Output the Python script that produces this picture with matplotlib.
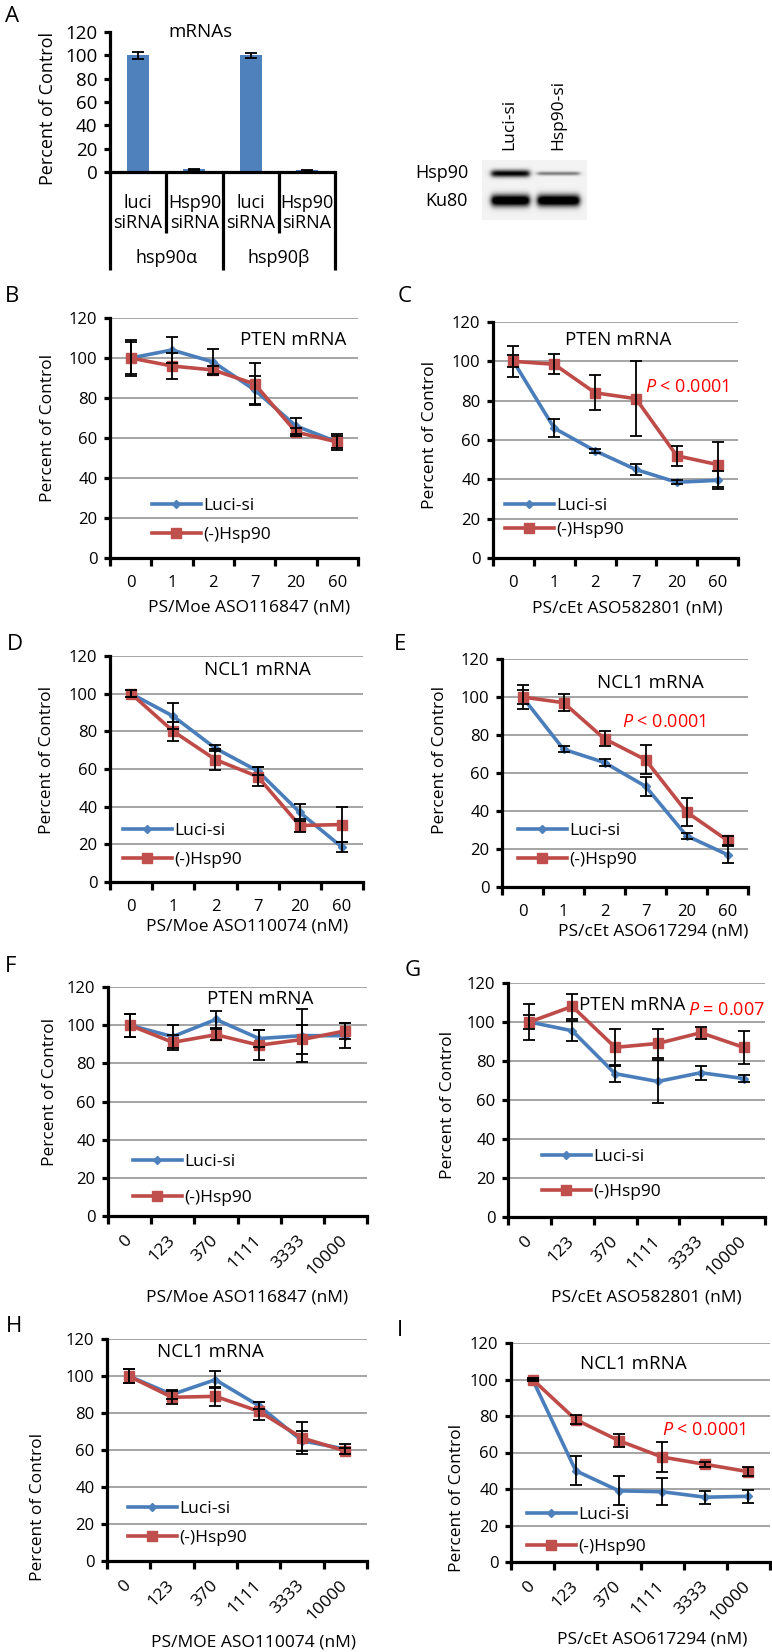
import numpy as np
import matplotlib
matplotlib.use('Agg')
import matplotlib.pyplot as plt
import matplotlib.transforms as mtrans
from matplotlib.lines import Line2D

plt.rcParams['font.family'] = ['Open Sans', 'DejaVu Sans']
plt.rcParams['mathtext.fontset'] = 'custom'
plt.rcParams['mathtext.rm'] = 'Open Sans'
plt.rcParams['mathtext.it'] = 'Open Sans:italic'

# ---------------- data ----------------
a_labels = ['luci\nsiRNA', 'Hsp90\nsiRNA', 'luci\nsiRNA', 'Hsp90\nsiRNA']
a_groups = ['hsp90α', 'hsp90β']
a_values = [100, 2.5, 100, 1.5]
a_errors = [3, 0.5, 2, 0.5]

blot_lanes = ['Luci-si', 'Hsp90-si']
blot_rows = ['Hsp90', 'Ku80']
blot_hsp90 = [0.95, 0.45]
blot_ku80 = [1.0, 1.0]

doses_low = ['0', '1', '2', '7', '20', '60']
doses_high = ['0', '123', '370', '1111', '3333', '10000']

B_luci = [100, 104, 98, 84, 66, 58]
B_luci_err = [8, 6.5, 6.5, 7, 4, 3]
B_hsp = [100, 96, 94, 87, 63, 58]
B_hsp_err = [9, 6.5, 2, 10.5, 2, 4]

C_luci = [100, 66, 54.5, 45, 38.5, 39.5]
C_luci_err = [8, 4.5, 1, 3, 1, 4.5]
C_hsp = [100, 98.5, 84, 81, 52, 47.5]
C_hsp_err = [3, 5, 9, 19, 5, 11.5]

D_luci = [100, 88, 71, 59, 37, 18.5]
D_luci_err = [2, 7, 1.5, 2, 4.5, 2.5]
D_hsp = [100, 80, 65, 56, 30, 30.5]
D_hsp_err = [2, 5, 5.5, 5, 3.5, 9.5]

E_luci = [100, 72.5, 65.5, 53, 27, 17]
E_luci_err = [6.5, 1.5, 2, 5, 1.5, 4.5]
E_hsp = [100, 97, 78, 67, 39.5, 24.5]
E_hsp_err = [3.5, 4.5, 4, 7.5, 7.5, 2.5]

F_luci = [100, 94, 103, 93, 94.5, 94.5]
F_luci_err = [6, 6, 4.5, 4.5, 14, 6.5]
F_hsp = [100, 91, 95, 89.5, 92.5, 97]
F_hsp_err = [6, 4, 3, 8, 7.5, 4]

G_luci = [100, 95.5, 73.5, 69.5, 74, 71]
G_luci_err = [9, 5, 4.5, 11, 3.5, 2]
G_hsp = [100, 108, 87, 89, 94.5, 87]
G_hsp_err = [3.5, 6.5, 9.5, 7.5, 3, 8.5]

H_luci = [100, 90, 98, 84, 65, 60.5]
H_luci_err = [4, 2.5, 4.5, 2, 5.5, 2.5]
H_hsp = [100, 88.5, 89, 81, 66.5, 59.5]
H_hsp_err = [4, 3.5, 5, 5, 8.5, 1.5]

I_luci = [100, 50, 39, 38.5, 35.5, 36]
I_luci_err = [0.5, 8, 8, 7.5, 3.5, 3.5]
I_hsp = [100, 78, 66.5, 57.5, 53.5, 49.5]
I_hsp_err = [1, 2.5, 3.5, 8, 1.5, 2.5]

yticks = [0, 20, 40, 60, 80, 100, 120]

# ---------------- layout helpers ----------------
W, H = 772, 1652
fig = plt.figure(figsize=(W / 100, H / 100), dpi=100)


def rect(x0, ytop, x1, ybot):
    return [x0 / W, 1 - ybot / H, (x1 - x0) / W, (ybot - ytop) / H]


def ftext(px, py, s, **kw):
    fig.text(px / W, 1 - py / H, s, **kw)


BLUE = '#4A7EBB'
BLUE_M = '#4F81BD'
RED = '#BE4B48'
RED_M = '#C0504D'
GRID = '#8C8C8C'
SPW = 2.3
TICK_FS = 12
LAB_FS = 12.5

# ---------------- Panel A ----------------
axA = fig.add_axes(rect(110, 32, 335, 172))
xa = np.arange(len(a_values))
axA.bar(xa, a_values, width=0.39, color='#4F81BD', zorder=2)
axA.errorbar(xa, a_values, yerr=a_errors, fmt='none', ecolor='black',
             elinewidth=1.3, capsize=4, capthick=1.3, zorder=3)
axA.set_xlim(-0.5, 3.5)
axA.set_ylim(0, 120)
axA.set_yticks(yticks)
axA.tick_params(axis='y', labelsize=13.5, length=4, width=SPW, pad=5)
axA.set_xticks([])
for s in ['top', 'right']:
    axA.spines[s].set_visible(False)
for s in ['left', 'bottom']:
    axA.spines[s].set_linewidth(SPW)
axA.set_ylabel('Percent of Control', fontsize=13)
axA.yaxis.set_label_coords(-0.276, 0.457)
axA.yaxis.label.set_va('center')
axA.text(0.4, 1.0, 'mRNAs', transform=axA.transAxes, ha='center', va='center',
         fontsize=13.5)
trA = mtrans.blended_transform_factory(axA.transData, axA.transAxes)
deep = -(270 - 172) / 140
shallow = -(233 - 172) / 140
for xb, d in zip([-0.5, 0.5, 1.5, 2.5, 3.5], [deep, shallow, deep, shallow, deep]):
    axA.plot([xb, xb], [0, d], transform=trA, color='black', lw=SPW,
             clip_on=False, solid_capstyle='butt')
for xi, lab in zip(xa, a_labels):
    axA.text(xi, -(213 - 172) / 140, lab, transform=trA, ha='center',
             va='center', fontsize=13, linespacing=1.1)
for gi, g in enumerate(a_groups):
    axA.text(0.5 + 2 * gi, -(258 - 172) / 140, g, transform=trA, ha='center',
             va='center', fontsize=13)

# ---------------- Blot ----------------
axW = fig.add_axes(rect(482, 160, 587, 220))
yy, xx = np.mgrid[0:60, 0:105].astype(float)
img = np.full(yy.shape, 0.95)
lane_c = [28, 76]
lane_hw = [19, 21]
dark = np.zeros_like(img)
for li in range(2):
    prof_x = 1 / (1 + np.exp((np.abs(xx - lane_c[li]) - lane_hw[li]) / 1.5))
    dark += blot_hsp90[li] * prof_x * np.exp(-0.5 * ((yy - 13) / (2.6 if li == 0 else 1.4)) ** 2)
    dark += blot_ku80[li] * prof_x * np.exp(-0.5 * ((yy - 40) / 4.2) ** 2) * 1.2
img = np.clip(img - dark, 0, 1)
axW.imshow(img, cmap='gray', vmin=0, vmax=1, aspect='auto',
           interpolation='bilinear')
axW.axis('off')
ftext(468, 173, blot_rows[0], ha='right', va='center', fontsize=13)
ftext(468, 201, blot_rows[1], ha='right', va='center', fontsize=13)
ftext(509, 150, blot_lanes[0], ha='center', va='bottom', rotation=90, fontsize=12.5)
ftext(558, 150, blot_lanes[1], ha='center', va='bottom', rotation=90, fontsize=12.5)

# ---------------- Line panels ----------------
panels = [
    dict(letter='B', box=(110, 318, 358, 558), labels=doses_low,
         luci=B_luci, luci_err=B_luci_err, hsp=B_hsp, hsp_err=B_hsp_err,
         rot=False, title='PTEN mRNA', title_xy=(0.738, 0.908), p=None,
         leg=(0.169, 0.063), ls=0.75, xlabel='PS/Moe ASO116847 (nM)',
         xl=(0.56, -0.208), yl=(-0.25, 0.54), let_xy=(12, 297)),
    dict(letter='C', box=(493, 322, 738, 558), labels=doses_low,
         luci=C_luci, luci_err=C_luci_err, hsp=C_hsp, hsp_err=C_hsp_err,
         rot=False, title='PTEN mRNA', title_xy=(0.51, 0.924),
         p='$P$ < 0.0001', p_xy=(0.62, 0.725), p_ha='left',
         leg=(0.049, 0.085), ls=0.45, xlabel='PS/cEt ASO582801 (nM)',
         xl=(0.547, -0.212), yl=(-0.257, 0.52), let_xy=(405, 296)),
    dict(letter='D', box=(110, 656, 363, 882), labels=doses_low,
         luci=D_luci, luci_err=D_luci_err, hsp=D_hsp, hsp_err=D_hsp_err,
         rot=False, title='NCL1 mRNA', title_xy=(0.581, 0.938), p=None,
         leg=(0.051, 0.062), ls=0.75, xlabel='PS/Moe ASO110074 (nM)',
         xl=(0.54, -0.199), yl=(-0.249, 0.54), let_xy=(15, 645)),
    dict(letter='E', box=(502, 659, 748, 887), labels=doses_low,
         luci=E_luci, luci_err=E_luci_err, hsp=E_hsp, hsp_err=E_hsp_err,
         rot=False, title='NCL1 mRNA', title_xy=(0.602, 0.895),
         p='$P$ < 0.0001', p_xy=(0.488, 0.724), p_ha='left',
         leg=(0.065, 0.083), ls=0.75, xlabel='PS/cEt ASO617294 (nM)',
         xl=(0.615, -0.197), yl=(-0.252, 0.557), let_xy=(400, 645)),
    dict(letter='F', box=(108, 987, 367, 1216), labels=doses_high,
         luci=F_luci, luci_err=F_luci_err, hsp=F_hsp, hsp_err=F_hsp_err,
         rot=True, title='PTEN mRNA', title_xy=(0.587, 0.948), p=None,
         leg=(0.097, 0.044), ls=1.15, xlabel='PS/Moe ASO116847 (nM)',
         xl=(0.537, -0.354), yl=(-0.224, 0.541), let_xy=(11, 967)),
    dict(letter='G', box=(508, 983, 765, 1217), labels=doses_high,
         luci=G_luci, luci_err=G_luci_err, hsp=G_hsp, hsp_err=G_hsp_err,
         rot=True, title='PTEN mRNA', title_xy=(0.482, 0.906),
         p='$P$ = 0.007', p_xy=(1.0, 0.885), p_ha='right',
         leg=(0.132, 0.073), ls=1.1, xlabel='PS/cEt ASO582801 (nM)',
         xl=(0.537, -0.342), yl=(-0.233, 0.479), let_xy=(413, 970)),
    dict(letter='H', box=(107, 1339, 367, 1561), labels=doses_high,
         luci=H_luci, luci_err=H_luci_err, hsp=H_hsp, hsp_err=H_hsp_err,
         rot=True, title='NCL1 mRNA', title_xy=(0.396, 0.941), p=None,
         leg=(0.081, 0.068), ls=0.75, xlabel='PS/MOE ASO110074 (nM)',
         xl=(0.565, -0.365), yl=(-0.265, 0.243), let_xy=(14, 1327)),
    dict(letter='I', box=(511, 1343, 770, 1562), labels=doses_high,
         luci=I_luci, luci_err=I_luci_err, hsp=I_hsp, hsp_err=I_hsp_err,
         rot=True, title='NCL1 mRNA', title_xy=(0.471, 0.904),
         p='$P$ < 0.0001', p_xy=(0.583, 0.603), p_ha='left',
         leg=(0.062, 0.032), ls=0.9, xlabel='PS/cEt ASO617294 (nM)',
         xl=(0.544, -0.356), yl=(-0.208, 0.292), let_xy=(400, 1331)),
]

for P in panels:
    ax = fig.add_axes(rect(*P['box']))
    n = len(P['labels'])
    x = np.arange(n)
    ax.plot(x, P['luci'], color=BLUE, lw=2.6, marker='D', markersize=4.5,
            markerfacecolor=BLUE_M, markeredgecolor=BLUE_M, zorder=3)
    ax.plot(x, P['hsp'], color=RED, lw=2.6, marker='s', markersize=7,
            markerfacecolor=RED_M, markeredgecolor=RED_M, zorder=3)
    ax.errorbar(x, P['luci'], yerr=P['luci_err'], fmt='none', ecolor='black',
                elinewidth=1.3, capsize=4, capthick=1.3, zorder=4)
    ax.errorbar(x, P['hsp'], yerr=P['hsp_err'], fmt='none', ecolor='black',
                elinewidth=1.3, capsize=4, capthick=1.3, zorder=4)
    ax.set_xlim(-0.5, n - 0.5)
    ax.set_ylim(0, 120)
    ax.set_yticks(yticks)
    ax.yaxis.grid(True, color=GRID, lw=1.1)
    ax.set_axisbelow(True)
    for s in ['top', 'right']:
        ax.spines[s].set_visible(False)
    for s in ['left', 'bottom']:
        ax.spines[s].set_linewidth(SPW)
    ax.tick_params(axis='y', labelsize=TICK_FS, length=4, width=SPW, pad=5)
    ax.set_xticks(x)
    ax.set_xticks(np.arange(n + 1) - 0.5, minor=True)
    ax.tick_params(axis='x', which='minor', length=6, width=SPW, direction='out')
    ax.set_xticklabels(P['labels'])
    if P['rot']:
        ax.tick_params(axis='x', which='major', length=0, pad=16,
                       labelsize=12.5)
        for t in ax.get_xticklabels():
            t.set_rotation(45)
            t.set_ha('right')
            t.set_va('center')
            t.set_rotation_mode('anchor')
    else:
        ax.tick_params(axis='x', which='major', length=0, pad=12,
                       labelsize=TICK_FS)
    ax.set_xlabel(P['xlabel'], fontsize=LAB_FS)
    ax.xaxis.set_label_coords(*P['xl'])
    ax.xaxis.label.set_va('center')
    ax.set_ylabel('Percent of Control', fontsize=LAB_FS)
    ax.yaxis.set_label_coords(*P['yl'])
    ax.yaxis.label.set_va('center')
    ax.text(P['title_xy'][0], P['title_xy'][1], P['title'],
            transform=ax.transAxes, ha='center', va='center', fontsize=13.5)
    if P['p']:
        ax.text(P['p_xy'][0], P['p_xy'][1], P['p'], transform=ax.transAxes,
                ha=P['p_ha'], va='center', fontsize=13, color='#FF0000')
    handles = [
        Line2D([], [], color=BLUE, lw=2.6, marker='D', markersize=4.5,
               markerfacecolor=BLUE_M, markeredgecolor=BLUE_M),
        Line2D([], [], color=RED, lw=2.6, marker='s', markersize=7,
               markerfacecolor=RED_M, markeredgecolor=RED_M),
    ]
    ax.legend(handles, ['Luci-si', '(-)Hsp90'], loc='lower left',
              bbox_to_anchor=P['leg'], frameon=False, handlelength=2.8,
              handletextpad=0.15, labelspacing=P['ls'], borderpad=0,
              borderaxespad=0, fontsize=LAB_FS, numpoints=1)
    ftext(P['let_xy'][0], P['let_xy'][1], P['letter'], ha='center',
          va='center', fontsize=16)

ftext(12, 17, 'A', ha='center', va='center', fontsize=16)

fig.savefig('out.png', dpi=100)
